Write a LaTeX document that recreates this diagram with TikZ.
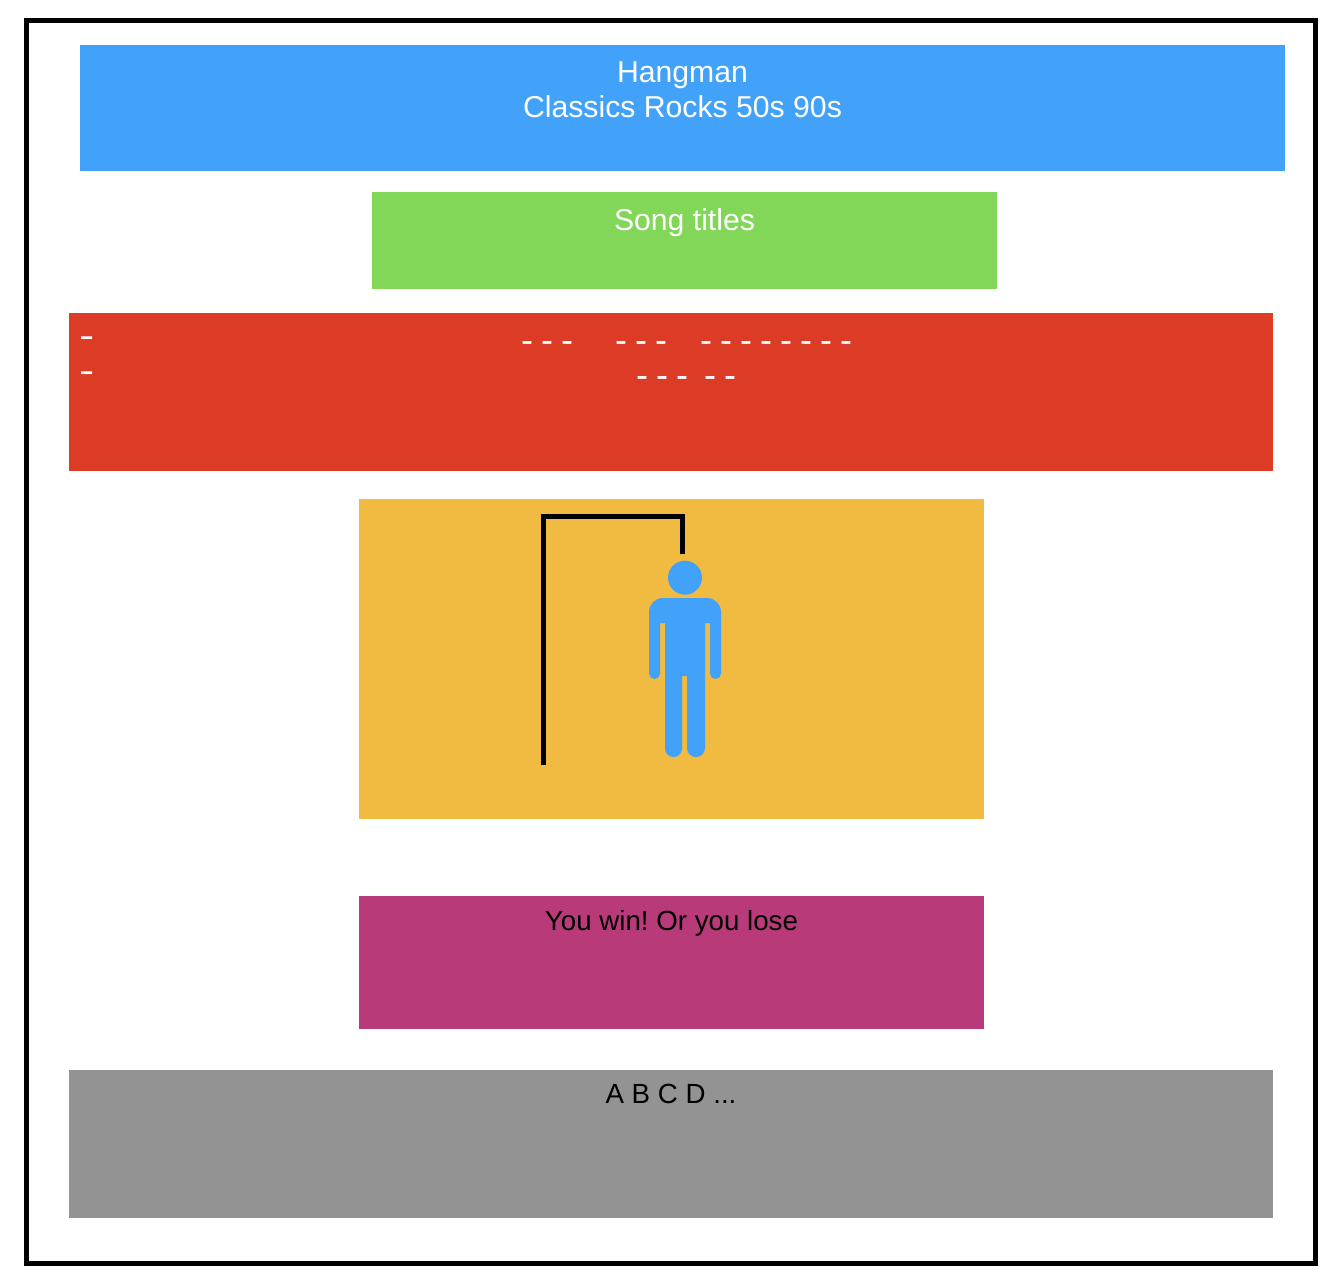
\documentclass[tikz,border=0pt]{standalone}
\usepackage{fontspec}
\usepackage{xcolor}
\usetikzlibrary{positioning}
\setmainfont{Liberation Sans}
\newfontfamily\dashfont{Liberation Sans}[WordSpace=0.8]
\newfontfamily\widedashfont{Liberation Sans}[FakeStretch=1.3]
\definecolor{hdrblue}{HTML}{42A2FA}
\definecolor{songgreen}{HTML}{82D658}
\definecolor{wordred}{HTML}{DC3B25}
\definecolor{gallowyellow}{HTML}{F1BA40}
\definecolor{resultpink}{HTML}{B93A78}
\definecolor{keygray}{HTML}{939393}
\frenchspacing

\begin{document}
\begin{tikzpicture}[
  x=1pt, y=-1pt,
  panel/.style={draw=none, inner sep=0pt, outer sep=0pt},
  lbl/.style={inner sep=0pt, align=center, font=\fontsize{30.2}{35}\selectfont},
  smalllbl/.style={lbl, font=\fontsize{27.7}{35}\selectfont},
  dashrow/.style={inner sep=0pt, font=\dashfont\fontsize{36}{36}\selectfont, text=white, anchor=base west},
  bigdash/.style={inner sep=0pt, align=left, anchor=north west, text=white, font=\widedashfont\fontsize{35}{35}\selectfont},
  beam/.style={draw=black, line width=5pt, miter limit=10}
]
\useasboundingbox (0,0) rectangle (1338,1284);
\fill[white] (0,0) rectangle (1338,1284);

\node[panel, draw=black, line width=5pt, minimum width=1289pt, minimum height=1243pt] (frame) at (671,642) {};

\node[panel, fill=hdrblue, minimum width=1205pt, minimum height=126pt] (title) at (682.5,108) {};
\node[panel, fill=songgreen, minimum width=625pt, minimum height=97pt] (song) at (684.5,240.5) {};
\node[panel, fill=wordred, minimum width=1204pt, minimum height=158pt] (word) at (671,392) {};
\node[panel, fill=gallowyellow, minimum width=625pt, minimum height=320pt] (stage) at (671.5,659) {};
\node[panel, fill=resultpink, minimum width=625pt, minimum height=133pt] (result) at (671.5,962.5) {};
\node[panel, fill=keygray, minimum width=1204pt, minimum height=148pt] (keys) at (671,1144) {};

\node[lbl, text=white, below=16.5pt of title.north] (titletext) {Hangman\\Classics Rocks 50s 90s};
\node[lbl, text=white, below=16pt of song.north] (songtext) {Song titles};
\node[smalllbl, text=black, below=14pt of result.north] (resulttext) {You win! Or you lose};
\node[smalllbl, text=black, below=14pt of keys.north] (keystext) {A B C D ...};

% left column of the word panel
\node[bigdash] (dashleft) at (79,336.5) {-\\-};

% song title blanks
\node[dashrow] (rowA) at (521,352.5) {- - -\hspace{34pt} - - -\hspace{25pt} - - - - - - - -};
\node[dashrow] (rowB) at (636,387) {- - -\hspace{8pt} - -};

% gallows
\coordinate (gallowfoot) at (543.5,765);
\coordinate (gallowtop) at (543.5,516.5);
\coordinate (gallowend) at (682.5,516.5);
\coordinate (rope) at (682.5,554);
\draw[beam] (gallowfoot) -- (gallowtop) -- (gallowend) -- (rope);

% hanged man
\fill[hdrblue] (685,577.7) circle (17);
\fill[hdrblue] (649,640) [rounded corners=14pt] -- (649,598) -- (721,598) -- (721,640)
  [rounded corners=5.4pt] -- (721,679) -- (710,679) [sharp corners] -- (710,623) -- (705,623)
  [rounded corners=8.9pt] -- (705,757) -- (687,757) [sharp corners] -- (687,676) -- (682,676)
  [rounded corners=8.4pt] -- (682,757) -- (665,757) [sharp corners] -- (665,623) -- (660,623)
  [rounded corners=5.4pt] -- (660,679) -- (649,679) [sharp corners] -- cycle;
\end{tikzpicture}
\end{document}
